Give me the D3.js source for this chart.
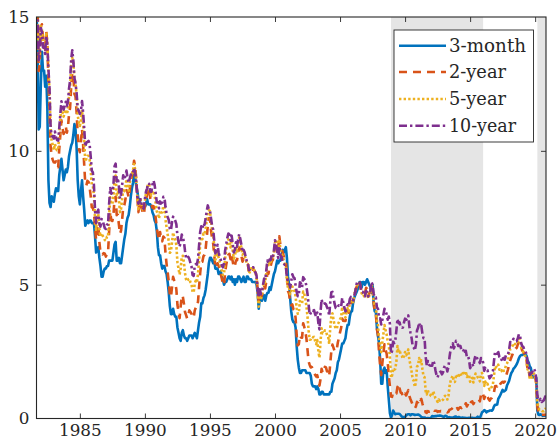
<!DOCTYPE html>
<html>
<head>
<meta charset="utf-8">
<script src="https://cdn.jsdelivr.net/npm/d3@7"></script>
<style>
  html, body { margin: 0; padding: 0; background: #ffffff; }
  svg { display: block; }
</style>
</head>
<body>
<svg id="chart" width="558" height="446"></svg>
<script>
// Monthly U.S. Treasury yields (percent), September 1981 through November 2020.
const startYear = 1981;
const startMonth = 9;

const threeMonth = [
  15.20, 14.05, 10.80, 10.90,
  12.50, 13.70, 13.00, 13.00, 12.40, 12.80, 11.60, 8.90, 8.05, 7.90, 8.30, 8.20,
  8.10, 8.40, 8.60, 8.50, 8.50, 9.10, 9.40, 9.70, 9.30, 8.90, 9.10, 9.30,
  9.20, 9.40, 9.80, 10.00, 10.20, 10.30, 10.60, 11.00, 10.80, 10.10, 8.90, 8.30,
  8.00, 8.50, 8.90, 8.30, 7.80, 7.20, 7.30, 7.40, 7.30, 7.40, 7.40, 7.30,
  7.30, 7.30, 6.80, 6.20, 6.30, 6.40, 6.00, 5.70, 5.30, 5.30, 5.50, 5.60,
  5.60, 5.70, 5.70, 5.90, 5.90, 5.90, 5.90, 6.20, 6.50, 6.60, 5.90, 5.90,
  6.00, 5.80, 5.80, 6.10, 6.40, 6.70, 6.90, 7.30, 7.50, 7.60, 7.90, 8.30,
  8.60, 8.80, 9.10, 9.00, 8.70, 8.50, 8.20, 8.20, 8.00, 7.90, 7.90, 7.90,
  7.90, 8.00, 8.20, 8.00, 8.00, 8.00, 7.90, 7.70, 7.60, 7.40, 7.30, 7.00,
  6.40, 6.10, 6.10, 5.80, 5.60, 5.70, 5.70, 5.50, 5.40, 5.10, 4.70, 4.20,
  3.90, 3.90, 4.10, 3.90, 3.80, 3.80, 3.40, 3.20, 3.00, 2.90, 3.20, 3.30,
  3.10, 3.00, 3.00, 2.90, 3.00, 3.10, 3.10, 3.10, 3.00, 3.10, 3.20, 3.10,
  3.00, 3.30, 3.60, 3.80, 4.30, 4.30, 4.50, 4.60, 4.80, 5.10, 5.40, 5.80,
  6.00, 6.00, 5.90, 5.80, 5.90, 5.60, 5.60, 5.60, 5.40, 5.40, 5.50, 5.30,
  5.20, 5.00, 5.10, 5.10, 5.20, 5.30, 5.30, 5.20, 5.30, 5.10, 5.20, 5.00,
  5.20, 5.10, 5.30, 5.30, 5.20, 5.10, 5.20, 5.30, 5.10, 5.10, 5.30, 5.30,
  5.20, 5.20, 5.20, 5.10, 5.10, 5.10, 5.10, 5.00, 4.70, 4.10, 4.50, 4.50,
  4.40, 4.60, 4.60, 4.40, 4.60, 4.70, 4.70, 4.90, 4.80, 5.00, 5.20, 5.40,
  5.50, 5.70, 5.90, 5.80, 5.90, 5.90, 6.10, 6.30, 6.20, 6.30, 6.40, 6.00,
  5.30, 5.00, 4.50, 4.00, 3.70, 3.60, 3.60, 3.40, 2.70, 2.20, 1.90, 1.70,
  1.70, 1.80, 1.80, 1.80, 1.80, 1.70, 1.70, 1.70, 1.70, 1.60, 1.30, 1.20,
  1.20, 1.20, 1.10, 1.20, 1.10, 0.90, 0.90, 1.00, 1.00, 0.90, 0.90, 0.90,
  0.90, 0.90, 0.90, 1.00, 1.00, 1.30, 1.40, 1.50, 1.70, 1.80, 2.10, 2.20,
  2.40, 2.60, 2.80, 2.80, 2.90, 3.00, 3.30, 3.50, 3.50, 3.80, 4.00, 4.00,
  4.30, 4.50, 4.60, 4.70, 4.80, 4.90, 5.10, 5.10, 4.90, 5.10, 5.10, 5.00,
  5.10, 5.20, 5.10, 5.00, 4.90, 4.70, 5.00, 4.30, 4.00, 4.00, 3.40, 3.10,
  2.80, 2.20, 1.30, 1.30, 1.80, 1.90, 1.70, 1.80, 1.20, 0.70, 0.20, 0.03,
  0.13, 0.30, 0.22, 0.16, 0.18, 0.18, 0.18, 0.17, 0.12, 0.07, 0.05, 0.05,
  0.06, 0.11, 0.15, 0.16, 0.16, 0.12, 0.16, 0.16, 0.15, 0.13, 0.14, 0.14,
  0.15, 0.13, 0.10, 0.06, 0.04, 0.04, 0.04, 0.02, 0.01, 0.02, 0.01, 0.01,
  0.03, 0.09, 0.08, 0.08, 0.09, 0.09, 0.10, 0.10, 0.11, 0.10, 0.09, 0.07,
  0.07, 0.10, 0.09, 0.06, 0.04, 0.05, 0.04, 0.04, 0.02, 0.05, 0.07, 0.07,
  0.04, 0.05, 0.05, 0.03, 0.03, 0.04, 0.03, 0.03, 0.02, 0.02, 0.02, 0.03,
  0.03, 0.02, 0.03, 0.02, 0.02, 0.02, 0.03, 0.07, 0.02, 0.02, 0.12, 0.23,
  0.26, 0.31, 0.29, 0.23, 0.27, 0.27, 0.30, 0.30, 0.29, 0.33, 0.45, 0.51,
  0.51, 0.52, 0.74, 0.80, 0.89, 0.98, 1.07, 1.01, 1.03, 1.07, 1.23, 1.32,
  1.41, 1.57, 1.70, 1.76, 1.86, 1.90, 1.96, 2.03, 2.13, 2.25, 2.33, 2.37,
  2.37, 2.39, 2.40, 2.38, 2.35, 2.17, 2.10, 1.95, 1.89, 1.65, 1.54, 1.54,
  1.52, 1.52, 0.29, 0.14, 0.13, 0.16, 0.13, 0.10, 0.11, 0.10, 0.09
];

const twoYear = [
  16.19, 15.42, 12.98, 13.25,
  14.64, 14.73, 14.13, 14.18, 13.77, 14.48, 14.00, 12.62, 11.59, 10.18, 9.80, 9.66,
  9.57, 9.56, 9.61, 9.42, 9.39, 10.07, 10.60, 11.14, 10.86, 10.63, 10.72, 10.91,
  10.68, 10.88, 11.36, 11.61, 12.41, 12.89, 12.80, 12.12, 12.03, 11.44, 10.61, 10.08,
  9.95, 10.36, 10.81, 10.23, 9.49, 8.76, 8.71, 8.88, 8.84, 8.64, 8.31, 7.89,
  7.87, 7.71, 7.09, 6.68, 7.13, 7.25, 6.59, 6.21, 6.21, 6.13, 6.18, 6.16,
  6.05, 6.15, 6.20, 6.99, 7.73, 7.40, 7.38, 7.61, 8.23, 8.28, 7.60, 7.61,
  7.25, 6.90, 7.02, 7.43, 7.89, 7.97, 8.17, 8.53, 8.45, 8.25, 8.51, 8.87,
  9.05, 9.27, 9.63, 9.42, 8.96, 8.27, 7.71, 8.03, 8.12, 7.86, 7.70, 7.62,
  7.93, 8.17, 8.35, 8.62, 8.56, 8.22, 8.01, 7.88, 7.93, 7.75, 7.48, 7.12,
  6.86, 6.67, 6.97, 6.72, 6.62, 6.80, 6.75, 6.17, 5.77, 5.46, 5.11, 4.63,
  4.53, 4.91, 5.29, 5.16, 5.05, 4.83, 4.25, 3.99, 3.75, 4.19, 4.60, 4.55,
  4.29, 3.98, 3.86, 3.73, 3.84, 4.04, 3.98, 3.91, 3.77, 3.78, 4.04, 4.15,
  4.14, 4.37, 4.92, 5.44, 5.85, 5.86, 6.06, 6.12, 6.33, 6.75, 7.19, 7.48,
  7.47, 7.03, 6.72, 6.53, 6.10, 5.63, 5.64, 5.80, 5.70, 5.61, 5.39, 5.21,
  5.03, 4.98, 5.46, 5.74, 5.95, 6.12, 6.15, 5.95, 6.12, 5.87, 5.65, 5.71,
  5.90, 5.91, 6.20, 6.39, 6.28, 6.09, 5.86, 5.96, 5.89, 5.84, 5.79, 5.76,
  5.46, 5.50, 5.58, 5.56, 5.59, 5.52, 5.46, 5.34, 4.81, 4.37, 4.63, 4.52,
  4.61, 4.79, 4.92, 4.86, 5.13, 5.43, 5.41, 5.69, 5.69, 5.87, 5.92, 6.14,
  6.44, 6.61, 6.53, 6.40, 6.81, 6.48, 6.34, 6.23, 6.08, 5.91, 5.88, 5.35,
  4.76, 4.66, 4.34, 4.23, 4.26, 4.08, 4.04, 3.76, 3.12, 2.73, 2.78, 3.11,
  3.03, 3.02, 3.56, 3.42, 3.26, 2.99, 2.56, 2.13, 2.00, 1.91, 1.92, 1.84,
  1.74, 1.63, 1.57, 1.62, 1.42, 1.23, 1.47, 1.86, 1.71, 1.75, 1.93, 1.91,
  1.76, 1.74, 1.58, 2.07, 2.53, 2.76, 2.64, 2.51, 2.53, 2.58, 2.85, 3.01,
  3.22, 3.38, 3.73, 3.65, 3.64, 3.64, 3.87, 4.04, 3.95, 4.17, 4.33, 4.39,
  4.35, 4.64, 4.74, 4.89, 4.97, 5.12, 5.12, 4.90, 4.77, 4.80, 4.74, 4.67,
  4.88, 4.85, 4.57, 4.67, 4.77, 4.96, 4.82, 4.31, 4.01, 3.97, 3.34, 3.12,
  2.48, 1.97, 1.62, 2.05, 2.45, 2.77, 2.57, 2.42, 2.08, 1.61, 1.21, 0.82,
  0.81, 0.98, 0.93, 0.93, 0.93, 1.18, 1.02, 1.12, 0.96, 0.95, 0.80, 0.87,
  0.93, 0.86, 0.96, 1.06, 0.83, 0.72, 0.62, 0.52, 0.48, 0.38, 0.45, 0.62,
  0.61, 0.77, 0.70, 0.73, 0.56, 0.41, 0.41, 0.23, 0.21, 0.28, 0.25, 0.26,
  0.24, 0.28, 0.34, 0.29, 0.29, 0.29, 0.25, 0.27, 0.26, 0.28, 0.27, 0.26,
  0.27, 0.27, 0.26, 0.23, 0.25, 0.33, 0.34, 0.36, 0.40, 0.34, 0.30, 0.34,
  0.39, 0.33, 0.40, 0.42, 0.39, 0.45, 0.51, 0.47, 0.57, 0.45, 0.53, 0.64,
  0.55, 0.62, 0.64, 0.54, 0.61, 0.69, 0.67, 0.70, 0.71, 0.64, 0.88, 0.98,
  0.90, 0.73, 0.88, 0.77, 0.82, 0.73, 0.67, 0.74, 0.77, 0.84, 0.98, 1.20,
  1.21, 1.20, 1.31, 1.24, 1.30, 1.34, 1.37, 1.34, 1.38, 1.58, 1.70, 1.84,
  2.03, 2.18, 2.28, 2.38, 2.51, 2.53, 2.61, 2.64, 2.77, 2.86, 2.86, 2.68,
  2.54, 2.50, 2.41, 2.34, 2.21, 1.81, 1.84, 1.57, 1.65, 1.56, 1.61, 1.63,
  1.53, 1.33, 0.45, 0.22, 0.17, 0.19, 0.14, 0.14, 0.13, 0.14, 0.17
];

const fiveYear = [
  15.93, 15.41, 13.38, 13.60,
  14.65, 14.54, 13.98, 14.00, 13.75, 14.43, 14.07, 13.00, 12.25, 10.80, 10.38, 10.22,
  10.03, 10.26, 10.08, 10.02, 10.03, 10.63, 11.21, 11.63, 11.43, 11.28, 11.41, 11.54,
  11.37, 11.54, 12.02, 12.37, 13.17, 13.48, 13.27, 12.68, 12.53, 12.06, 11.33, 11.07,
  10.93, 11.13, 11.52, 11.01, 10.34, 9.60, 9.70, 9.81, 9.81, 9.69, 9.28, 8.73,
  8.68, 8.34, 7.46, 7.05, 7.52, 7.64, 7.06, 6.80, 6.92, 6.83, 6.76, 6.67,
  6.64, 6.79, 6.79, 7.57, 8.26, 8.02, 8.01, 8.32, 8.94, 9.08, 8.35, 8.45,
  8.18, 7.71, 7.83, 8.19, 8.58, 8.49, 8.66, 8.94, 8.69, 8.51, 8.79, 9.09,
  9.15, 9.27, 9.51, 9.30, 8.91, 8.29, 7.83, 8.09, 8.17, 7.97, 7.81, 7.75,
  8.12, 8.42, 8.60, 8.77, 8.74, 8.43, 8.33, 8.44, 8.51, 8.33, 8.02, 7.73,
  7.70, 7.47, 7.77, 7.70, 7.70, 7.94, 7.91, 7.43, 7.14, 6.87, 6.62, 6.19,
  6.24, 6.58, 6.95, 6.78, 6.69, 6.48, 5.84, 5.60, 5.38, 5.60, 6.04, 6.08,
  5.83, 5.43, 5.19, 5.13, 5.20, 5.22, 5.09, 5.03, 4.73, 4.71, 5.06, 5.15,
  5.09, 5.40, 5.94, 6.52, 6.78, 6.70, 6.91, 6.88, 7.08, 7.40, 7.72, 7.78,
  7.76, 7.37, 7.05, 6.86, 6.41, 5.93, 6.01, 6.24, 6.00, 5.86, 5.69, 5.51,
  5.36, 5.38, 5.97, 6.30, 6.48, 6.69, 6.64, 6.39, 6.60, 6.27, 5.97, 6.07,
  6.33, 6.20, 6.54, 6.76, 6.57, 6.38, 6.12, 6.16, 6.11, 5.93, 5.80, 5.77,
  5.42, 5.49, 5.61, 5.61, 5.63, 5.52, 5.46, 5.27, 4.62, 4.18, 4.54, 4.45,
  4.60, 4.91, 5.14, 5.08, 5.44, 5.81, 5.68, 5.84, 5.80, 6.03, 5.97, 6.19,
  6.58, 6.68, 6.50, 6.26, 6.69, 6.30, 6.18, 6.06, 5.93, 5.78, 5.70, 5.17,
  4.86, 4.89, 4.64, 4.76, 4.93, 4.81, 4.76, 4.57, 4.12, 3.91, 3.97, 4.39,
  4.34, 4.30, 4.74, 4.65, 4.49, 4.19, 3.81, 3.29, 2.94, 2.95, 3.05, 3.03,
  3.05, 2.90, 2.78, 2.93, 2.52, 2.27, 2.87, 3.37, 3.18, 3.19, 3.29, 3.27,
  3.12, 3.07, 2.79, 3.39, 3.85, 3.93, 3.69, 3.47, 3.36, 3.35, 3.53, 3.60,
  3.71, 3.77, 4.17, 4.00, 3.85, 3.77, 3.98, 4.12, 4.01, 4.33, 4.45, 4.39,
  4.35, 4.57, 4.72, 4.90, 5.00, 5.07, 5.04, 4.82, 4.67, 4.69, 4.58, 4.53,
  4.75, 4.71, 4.48, 4.59, 4.67, 5.03, 4.88, 4.43, 4.20, 4.20, 3.67, 3.49,
  2.98, 2.78, 2.48, 2.84, 3.15, 3.49, 3.30, 3.14, 2.88, 2.73, 2.29, 1.52,
  1.60, 1.87, 1.82, 1.86, 2.13, 2.71, 2.46, 2.57, 2.37, 2.33, 2.23, 2.34,
  2.48, 2.36, 2.43, 2.58, 2.18, 2.00, 1.76, 1.47, 1.41, 1.18, 1.35, 1.93,
  1.99, 2.26, 2.11, 2.17, 1.84, 1.58, 1.54, 1.02, 0.90, 1.06, 0.91, 0.89,
  0.84, 0.83, 1.02, 0.89, 0.76, 0.71, 0.62, 0.71, 0.67, 0.71, 0.67, 0.70,
  0.81, 0.85, 0.82, 0.71, 0.84, 1.20, 1.40, 1.52, 1.60, 1.37, 1.37, 1.58,
  1.65, 1.52, 1.64, 1.70, 1.59, 1.68, 1.70, 1.63, 1.77, 1.55, 1.62, 1.64,
  1.37, 1.47, 1.52, 1.35, 1.54, 1.68, 1.63, 1.54, 1.49, 1.39, 1.67, 1.70,
  1.52, 1.22, 1.38, 1.26, 1.30, 1.17, 1.07, 1.13, 1.18, 1.27, 1.60, 1.96,
  1.92, 1.90, 2.01, 1.82, 1.84, 1.77, 1.87, 1.78, 1.80, 1.98, 2.05, 2.18,
  2.38, 2.60, 2.63, 2.70, 2.82, 2.78, 2.78, 2.77, 2.89, 3.00, 2.95, 2.68,
  2.54, 2.49, 2.37, 2.33, 2.19, 1.83, 1.83, 1.49, 1.57, 1.53, 1.64, 1.68,
  1.56, 1.32, 0.59, 0.39, 0.34, 0.34, 0.28, 0.27, 0.27, 0.34, 0.39
];

const tenYear = [
  15.32, 15.15, 13.39, 13.72,
  14.59, 14.43, 13.86, 13.87, 13.62, 14.30, 13.95, 13.06, 12.34, 10.91, 10.55, 10.54,
  10.46, 10.72, 10.51, 10.40, 10.38, 10.85, 11.38, 11.85, 11.65, 11.54, 11.69, 11.83,
  11.67, 11.84, 12.32, 12.63, 13.41, 13.76, 13.36, 12.72, 12.52, 12.16, 11.57, 11.50,
  11.38, 11.51, 11.86, 11.43, 10.85, 10.16, 10.31, 10.33, 10.37, 10.24, 9.78, 9.26,
  9.19, 8.70, 7.78, 7.30, 7.71, 7.80, 7.30, 7.17, 7.45, 7.43, 7.25, 7.11,
  7.08, 7.25, 7.25, 8.02, 8.61, 8.40, 8.45, 8.76, 9.42, 9.52, 8.86, 8.99,
  8.67, 8.21, 8.37, 8.72, 9.09, 8.92, 9.06, 9.26, 8.98, 8.80, 8.96, 9.11,
  9.09, 9.17, 9.36, 9.18, 8.86, 8.28, 8.02, 8.11, 8.19, 8.01, 7.87, 7.84,
  8.21, 8.47, 8.59, 8.79, 8.76, 8.48, 8.47, 8.75, 8.89, 8.72, 8.39, 8.08,
  8.09, 7.85, 8.11, 8.04, 8.07, 8.28, 8.27, 7.90, 7.65, 7.53, 7.42, 7.09,
  7.03, 7.34, 7.54, 7.48, 7.39, 7.26, 6.84, 6.59, 6.42, 6.59, 6.87, 6.77,
  6.60, 6.26, 5.98, 5.97, 6.04, 5.96, 5.81, 5.68, 5.36, 5.33, 5.72, 5.77,
  5.75, 5.97, 6.48, 6.97, 7.18, 7.10, 7.30, 7.24, 7.46, 7.74, 7.96, 7.81,
  7.78, 7.47, 7.20, 7.06, 6.63, 6.17, 6.28, 6.49, 6.20, 6.04, 5.93, 5.71,
  5.65, 5.81, 6.27, 6.51, 6.74, 6.91, 6.87, 6.64, 6.83, 6.53, 6.20, 6.30,
  6.58, 6.42, 6.69, 6.89, 6.71, 6.49, 6.22, 6.30, 6.21, 6.03, 5.88, 5.81,
  5.54, 5.57, 5.65, 5.64, 5.65, 5.50, 5.46, 5.34, 4.81, 4.53, 4.83, 4.65,
  4.72, 5.00, 5.23, 5.18, 5.54, 5.90, 5.79, 5.94, 5.92, 6.11, 6.03, 6.28,
  6.66, 6.52, 6.26, 5.99, 6.44, 6.10, 6.05, 5.83, 5.80, 5.74, 5.72, 5.24,
  5.16, 5.10, 4.89, 5.14, 5.39, 5.28, 5.24, 4.97, 4.73, 4.57, 4.65, 5.09,
  5.04, 4.91, 5.28, 5.21, 5.16, 4.93, 4.65, 4.26, 3.87, 3.94, 4.05, 4.03,
  4.05, 3.90, 3.81, 3.96, 3.57, 3.33, 3.98, 4.45, 4.27, 4.29, 4.30, 4.27,
  4.15, 4.08, 3.83, 4.35, 4.72, 4.73, 4.50, 4.28, 4.13, 4.10, 4.19, 4.23,
  4.22, 4.17, 4.50, 4.34, 4.14, 4.00, 4.18, 4.26, 4.20, 4.46, 4.54, 4.47,
  4.42, 4.57, 4.72, 4.99, 5.11, 5.11, 5.09, 4.88, 4.72, 4.73, 4.60, 4.56,
  4.76, 4.72, 4.56, 4.69, 4.75, 5.10, 5.00, 4.67, 4.52, 4.53, 4.15, 4.10,
  3.74, 3.74, 3.51, 3.68, 3.88, 4.10, 4.01, 3.89, 3.69, 3.81, 3.53, 2.42,
  2.52, 2.87, 2.82, 2.93, 3.29, 3.72, 3.56, 3.59, 3.40, 3.39, 3.40, 3.59,
  3.73, 3.69, 3.73, 3.85, 3.42, 3.20, 3.01, 2.70, 2.65, 2.54, 2.76, 3.29,
  3.39, 3.58, 3.41, 3.46, 3.17, 3.00, 3.00, 2.30, 1.98, 2.15, 2.01, 1.98,
  1.97, 1.97, 2.17, 2.05, 1.80, 1.62, 1.53, 1.68, 1.72, 1.75, 1.65, 1.72,
  1.91, 1.98, 1.96, 1.76, 1.93, 2.30, 2.58, 2.74, 2.81, 2.62, 2.72, 2.90,
  2.86, 2.71, 2.72, 2.71, 2.56, 2.60, 2.54, 2.42, 2.53, 2.30, 2.33, 2.21,
  1.88, 1.98, 2.04, 1.94, 2.20, 2.36, 2.32, 2.17, 2.17, 2.07, 2.26, 2.24,
  2.09, 1.78, 1.89, 1.81, 1.81, 1.64, 1.50, 1.56, 1.63, 1.76, 2.14, 2.49,
  2.43, 2.42, 2.48, 2.30, 2.30, 2.19, 2.32, 2.21, 2.20, 2.36, 2.35, 2.40,
  2.58, 2.86, 2.84, 2.87, 2.98, 2.91, 2.89, 2.89, 3.00, 3.15, 3.12, 2.83,
  2.71, 2.68, 2.57, 2.53, 2.40, 2.07, 2.06, 1.63, 1.70, 1.71, 1.81, 1.86,
  1.76, 1.50, 0.87, 0.66, 0.67, 0.73, 0.62, 0.65, 0.68, 0.79, 0.87
];

// Shaded periods (zero-lower-bound episodes), in decimal years
const shadeStart = [2008.92, 2020.17];
const shadeEnd   = [2016.00, 2020.84];

const yearTicks = [1985, 1990, 1995, 2000, 2005, 2010, 2015, 2020];
const yieldTicks = [0, 5, 10, 15];

const seriesNames = ["3-month", "2-year", "5-year", "10-year"];
const seriesValues = [threeMonth, twoYear, fiveYear, tenYear];
const seriesColors = ["#0072BD", "#D95319", "#EDB120", "#7E2F8E"];
const seriesDash = [null, "8,6", "2.4,2.2", "8,3,2.4,3"];

// ---- layout ----
const svg = d3.select("#chart");
const plot = { left: 36.5, right: 546, top: 17, bottom: 418.5 };
const axisColor = "#262626";
const serifFont = "DejaVu Serif";

const toYear = i => startYear + (startMonth - 1 + i) / 12;
const nMonths = threeMonth.length;

const x = d3.scaleLinear()
  .domain([toYear(0), toYear(nMonths - 1)])
  .range([plot.left, plot.right]);
const y = d3.scaleLinear()
  .domain([0, 15])
  .range([plot.bottom, plot.top]);

svg.append("defs").append("clipPath").attr("id", "plot-clip")
  .append("rect")
  .attr("x", plot.left).attr("y", plot.top)
  .attr("width", plot.right - plot.left).attr("height", plot.bottom - plot.top);

// shaded periods
svg.append("g")
  .selectAll("rect")
  .data(d3.range(shadeStart.length))
  .join("rect")
  .attr("x", i => x(shadeStart[i]))
  .attr("width", i => Math.min(x(shadeEnd[i]), plot.right) - x(shadeStart[i]))
  .attr("y", plot.top)
  .attr("height", plot.bottom - plot.top)
  .attr("fill", "#e5e5e5");

// yield curves
const line = d3.line()
  .x((d, i) => x(toYear(i)))
  .y(d => y(d));

const lines = svg.append("g").attr("clip-path", "url(#plot-clip)");
seriesValues.forEach((vals, k) => {
  lines.append("path")
    .datum(vals)
    .attr("d", line)
    .attr("fill", "none")
    .attr("stroke", seriesColors[k])
    .attr("stroke-width", 2.6)
    .attr("stroke-linejoin", "round")
    .attr("stroke-dasharray", seriesDash[k]);
});

// axes: ticks point inward on all four sides
const fontSize = 16.8;
const tickLen = 5;

const xBottom = d3.axisBottom(x).tickValues(yearTicks).tickFormat(d3.format("d"))
  .tickSizeInner(-tickLen).tickSizeOuter(0).tickPadding(6);
const xTop = d3.axisTop(x).tickValues(yearTicks).tickFormat("")
  .tickSizeInner(-tickLen).tickSizeOuter(0);
const yLeft = d3.axisLeft(y).tickValues(yieldTicks).tickFormat(d3.format("d"))
  .tickSizeInner(-tickLen).tickSizeOuter(0).tickPadding(7);
const yRight = d3.axisRight(y).tickValues(yieldTicks).tickFormat("")
  .tickSizeInner(-tickLen).tickSizeOuter(0);

function styleAxis(g) {
  g.attr("font-family", serifFont).attr("font-size", fontSize);
  g.select(".domain").remove();
  g.selectAll(".tick line").attr("stroke", axisColor).attr("stroke-width", 0.9);
  g.selectAll(".tick text").attr("fill", axisColor);
}

svg.append("g").attr("transform", `translate(0,${plot.bottom})`).call(xBottom).call(styleAxis);
svg.append("g").attr("transform", `translate(0,${plot.top})`).call(xTop).call(styleAxis);
svg.append("g").attr("transform", `translate(${plot.left},0)`).call(yLeft).call(styleAxis);
svg.append("g").attr("transform", `translate(${plot.right},0)`).call(yRight).call(styleAxis);

// hide tick marks that would sit on the box edges
svg.selectAll(".tick").filter(d => d === 0 || d === 15)
  .select("line").attr("stroke", "none");

// axes box
svg.append("rect")
  .attr("x", plot.left).attr("y", plot.top)
  .attr("width", plot.right - plot.left).attr("height", plot.bottom - plot.top)
  .attr("fill", "none").attr("stroke", axisColor).attr("stroke-width", 1.1);

// legend
const legend = { x: 394, y: 30, w: 139.5, h: 112, rowY: [45.7, 72, 99, 125.8] };
const legendTextWidth = [77, 57, 57, 67];
const lg = svg.append("g");
lg.append("rect")
  .attr("x", legend.x).attr("y", legend.y)
  .attr("width", legend.w).attr("height", legend.h)
  .attr("fill", "#ffffff").attr("stroke", axisColor).attr("stroke-width", 0.9);

seriesNames.forEach((name, k) => {
  const ry = legend.rowY[k];
  lg.append("line")
    .attr("x1", 399).attr("x2", 446)
    .attr("y1", ry).attr("y2", ry)
    .attr("stroke", seriesColors[k])
    .attr("stroke-width", 2.6)
    .attr("stroke-dasharray", seriesDash[k]);
  lg.append("text")
    .attr("x", 449).attr("y", ry)
    .attr("dy", "0.36em")
    .attr("fill", axisColor)
    .attr("font-family", serifFont)
    .attr("font-size", 18)
    .attr("textLength", legendTextWidth[k])
    .attr("lengthAdjust", "spacingAndGlyphs")
    .text(name);
});
</script>
</body>
</html>
